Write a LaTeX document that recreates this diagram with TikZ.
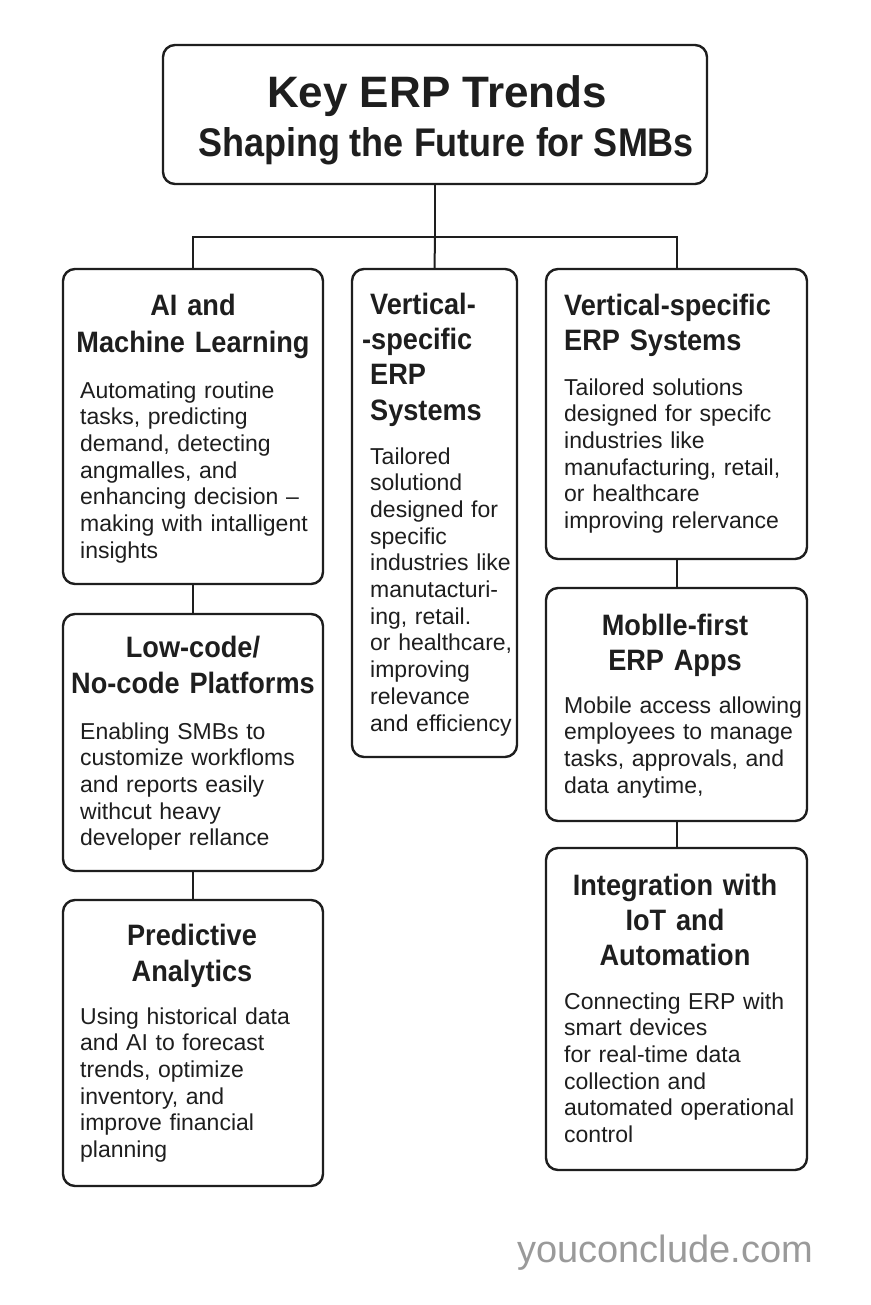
\documentclass[tikz,border=0pt]{standalone}
\usepackage{fontspec}
\setmainfont{Liberation Sans}
\newfontfamily\headfont[FakeStretch=0.92]{Liberation Sans}
\newfontfamily\subtfont[FakeStretch=0.9]{Liberation Sans}
\definecolor{ink}{HTML}{1E1E1E}
\definecolor{wmgray}{HTML}{9A9A9A}
\begin{document}
\begin{tikzpicture}[x=1pt,y=-1pt,
  box/.style={draw=ink, line width=2.4pt, rounded corners=12pt, inner sep=0pt, outer sep=0pt, anchor=north west},
  conn/.style={draw=ink, line width=2pt},
  titletext/.style={inner sep=0pt, text=ink, anchor=base},
  head/.style={inner sep=0pt, text=ink, font=\headfont\bfseries\fontsize{29.5}{36}\selectfont, align=center, anchor=base, text width=250pt},
  headl/.style={inner sep=0pt, text=ink, font=\headfont\bfseries\fontsize{29.5}{35}\selectfont, align=left, anchor=base west, text width=240pt},
  body/.style={inner sep=0pt, text=ink, font=\fontsize{23}{26.7}\selectfont, align=left, anchor=base west, text width=238pt},
]
\useasboundingbox (0,0) rectangle (870,1305);
\fill[white] (0,0) rectangle (870,1305);

% boxes
\node[box, minimum width=544pt, minimum height=139pt] (title) at (163,45) {};
\node[box, minimum width=260pt, minimum height=315pt] (ai) at (63,269) {};
\node[box, minimum width=165pt, minimum height=488pt] (vs) at (352,269) {};
\node[box, minimum width=261pt, minimum height=290pt] (ve) at (546,269) {};
\node[box, minimum width=260pt, minimum height=257pt] (low) at (63,614) {};
\node[box, minimum width=261pt, minimum height=233pt] (mob) at (546,588) {};
\node[box, minimum width=260pt, minimum height=286pt] (pred) at (63,900) {};
\node[box, minimum width=261pt, minimum height=322pt] (iot) at (546,848) {};

% title text
\node[titletext, font=\bfseries\fontsize{44}{49}\selectfont] (titlea) at (437,108) {Key ERP Trends};
\node[titletext, font=\subtfont\bfseries\fontsize{40}{49}\selectfont] (titleb) at (446,157) {Shaping the Future for SMBs};

% AI and Machine Learning
\node[head] (aih) at (193,316) {AI and\\ Machine Learning};
\node[body] (aib) at (80,398) {Automating routine\\ tasks, predicting\\ demand, detecting\\ angmalles, and\\ enhancing decision --\\ making with intalligent\\ insights};

% Low-code
\node[head] (lowh) at (193,657) {Low-code/\\ No-code Platforms};
\node[body] (lowb) at (80,739) {Enabling SMBs to\\ customize workfloms\\ and reports easily\\ withcut heavy\\ developer rellance};

% Predictive
\node[head] (predh) at (192,945) {Predictive\\ Analytics};
\node[body] (predb) at (80,1024) {Using historical data\\ and AI to forecast\\ trends, optimize\\ inventory, and\\ improve financial\\ planning};

% Vertical-specific (narrow)
\node[headl, text width=145pt] (vsh) at (370,315) {Vertical-\\ \hspace*{-8pt}-specific\\ ERP\\ Systems};
\node[body, text width=145pt] (vsb) at (370,464) {Tailored\\ solutiond\\ designed for\\ specific\\ industries like\\ manutacturi-\\ ing, retail.\\ or healthcare,\\ improving\\ relevance\\ and efficiency};

% Vertical-specific (right)
\node[headl] (veh) at (564,316) {Vertical-specific\\ ERP Systems};
\node[body] (veb) at (564,395) {Tailored solutions\\ designed for specifc\\ industries like\\ manufacturing, retail,\\ or healthcare\\ improving relervance};

% Mobile-first
\node[head, font=\headfont\bfseries\fontsize{29.5}{35}\selectfont] (mobh) at (675,635) {Moblle-first\\ ERP Apps};
\node[body] (mobb) at (564,713) {Mobile access allowing\\ employees to manage\\ tasks, approvals, and\\ data anytime,};

% IoT
\node[head, font=\headfont\bfseries\fontsize{29.5}{35}\selectfont] (ioth) at (675,895) {Integration with\\ IoT and\\ Automation};
\node[body] (iotb) at (564,1009) {Connecting ERP with\\ smart devices\\ for real-time data\\ collection and\\ automated operational\\ control};

% watermark
\node[inner sep=0pt, anchor=base west, text=wmgray, font=\fontsize{38}{40}\selectfont] (wm) at (517,1262) {youconclude.com};

% connectors
\coordinate (bus) at (435,237);
\draw[conn] (title.south) -- (bus);
\draw[conn] (ai.north) |- (bus) -| (ve.north);
\draw[conn] (bus) -- (vs.north);
\draw[conn] (ai.south) -- (low.north);
\draw[conn] (low.south) -- (pred.north);
\draw[conn] (ve.south) -- (mob.north);
\draw[conn] (mob.south) -- (iot.north);
\end{tikzpicture}
\end{document}
